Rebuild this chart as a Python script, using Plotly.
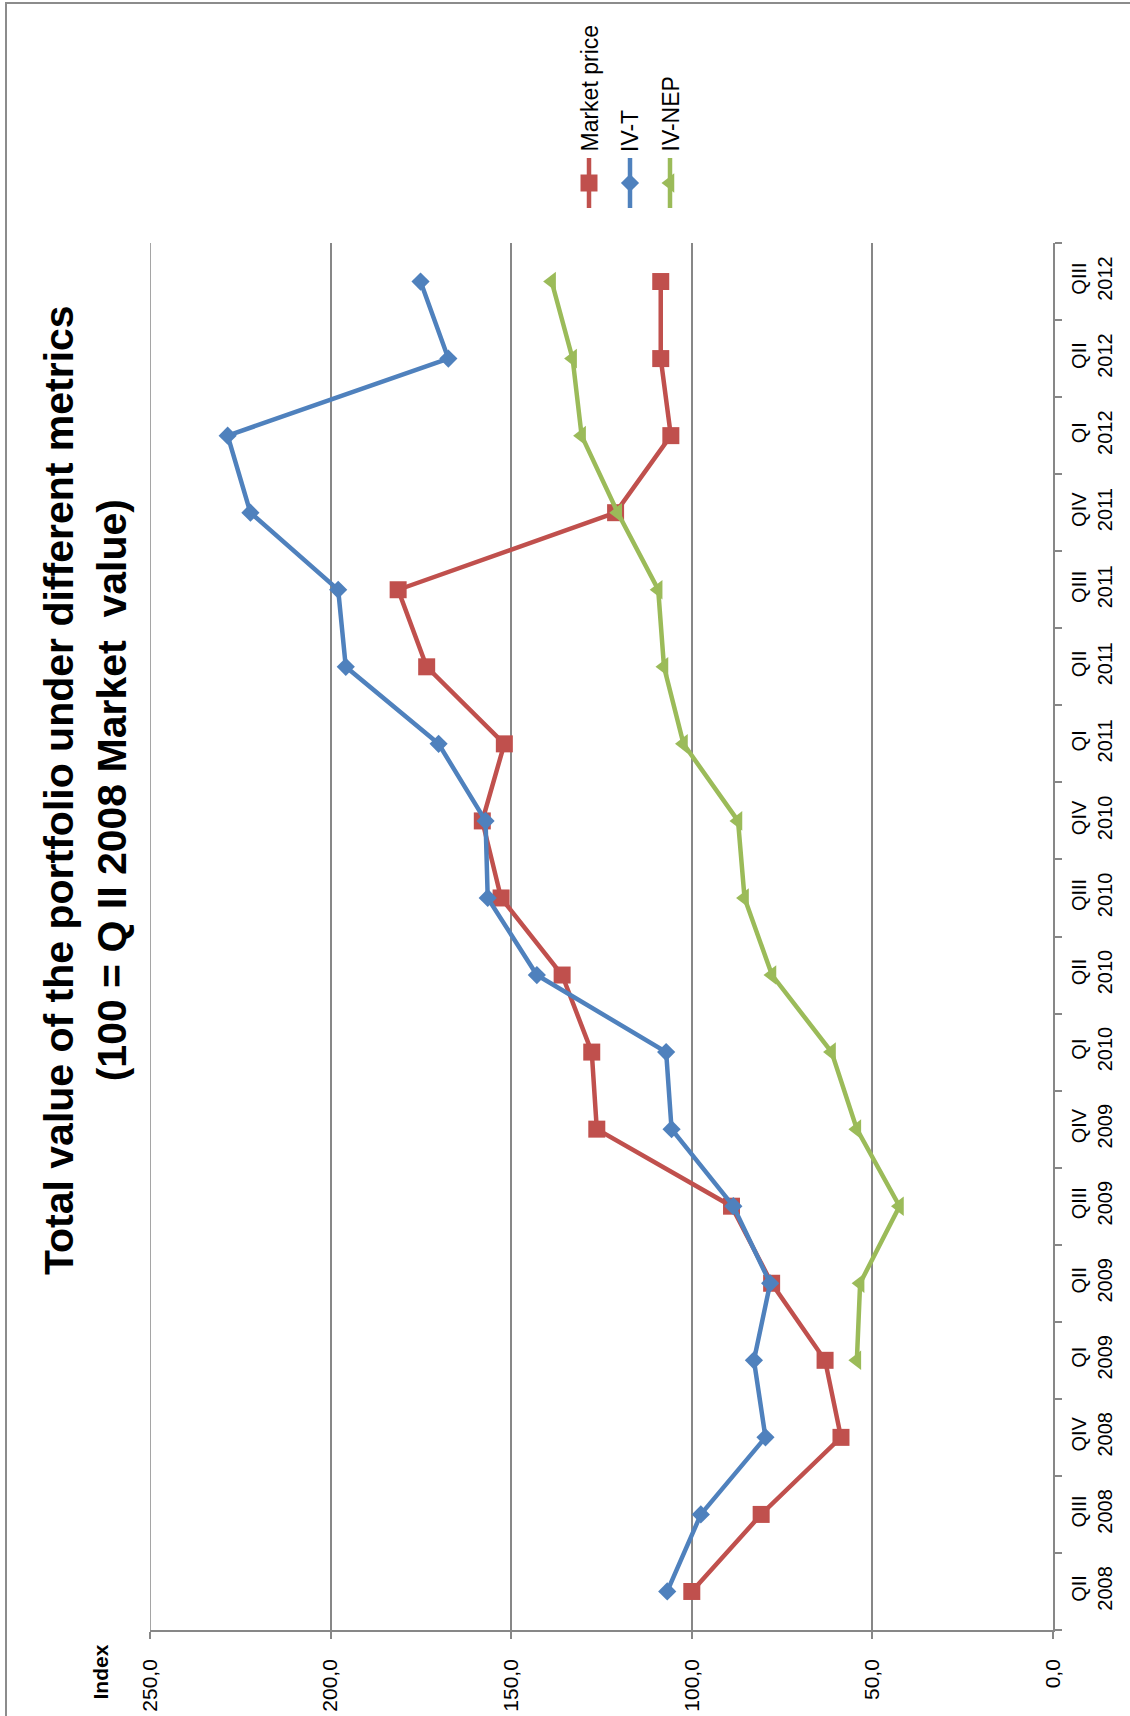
import plotly.graph_objects as go

# Quarter labels (category axis) and index values per metric
quarters = [
    "QII<br>2008", "QIII<br>2008", "QIV<br>2008",
    "QI<br>2009", "QII<br>2009", "QIII<br>2009", "QIV<br>2009",
    "QI<br>2010", "QII<br>2010", "QIII<br>2010", "QIV<br>2010",
    "QI<br>2011", "QII<br>2011", "QIII<br>2011", "QIV<br>2011",
    "QI<br>2012", "QII<br>2012", "QIII<br>2012",
]
market_price = [100.0, 80.8, 58.7, 63.1, 77.9, 89.0, 126.3, 127.7, 135.9,
                152.8, 158.0, 151.9, 173.4, 181.3, 121.1, 105.8, 108.6, 108.6]
iv_t = [106.8, 97.5, 79.6, 82.8, 78.3, 88.5, 105.6, 107.1, 142.9,
        156.5, 157.1, 170.1, 195.8, 197.9, 222.2, 228.5, 167.4, 175.1]
iv_nep = [None, None, None, 54.3, 53.4, 42.5, 54.3, 61.3, 77.8,
          85.4, 87.2, 102.3, 107.7, 109.3, 120.5, 130.5, 133.0, 138.8]

value_ticks = [0, 50, 100, 150, 200, 250]
value_tick_text = ["0,0", "50,0", "100,0", "150,0", "200,0", "250,0"]

series = [
    ("Market price", market_price, "#C0504D", "square", 17),
    ("IV-T", iv_t, "#4F81BD", "diamond", 14),
    ("IV-NEP", iv_nep, "#9BBB59", "triangle-left", 17),
]

W, H = 1130, 1716
FONT = "Liberation Sans, Arial, sans-serif"
GRID = "#878787"

fig = go.Figure()

for name, vals, color, symbol, size in series:
    fig.add_trace(go.Scatter(
        x=vals, y=quarters, mode="lines+markers", name=name,
        line=dict(color=color, width=4.5),
        marker=dict(symbol=symbol, size=size, color=color),
        connectgaps=False, showlegend=False,
        xaxis="x", yaxis="y",
    ))

# Hand-built rotated legend on a pixel-space overlay axis
legend_x = [589, 630, 670]
for (name, vals, color, symbol, size), lx in zip(series, legend_x):
    fig.add_trace(go.Scatter(
        x=[lx, lx], y=[158, 208], mode="lines",
        line=dict(color=color, width=4.5),
        showlegend=False, hoverinfo="skip",
        xaxis="x2", yaxis="y2",
    ))
    fig.add_trace(go.Scatter(
        x=[lx], y=[183], mode="markers",
        marker=dict(symbol=symbol, size=size, color=color),
        showlegend=False, hoverinfo="skip",
        xaxis="x2", yaxis="y2",
    ))
    fig.add_annotation(
        x=lx, y=154, xref="x2", yref="y2", text=name, showarrow=False,
        textangle=-90, xanchor="center", yanchor="bottom",
        font=dict(family=FONT, size=23, color="black"),
    )

# Title and value-axis caption
fig.add_annotation(
    x=85, y=790, xref="x2", yref="y2",
    text="<b>Total value of the portfolio under different metrics<br>(100 = Q II 2008 Market  value)</b>",
    showarrow=False, textangle=-90, xanchor="center", yanchor="middle",
    font=dict(family=FONT, size=41, color="black"),
)
fig.add_annotation(
    x=100, y=1643, xref="x2", yref="y2", text="<b>Index</b>",
    showarrow=False, textangle=-90, xanchor="center", yanchor="top",
    font=dict(family=FONT, size=21, color="black"),
)

# Gridline at the far end of the value range
fig.add_shape(type="line", xref="x", yref="y domain", x0=250, x1=250, y0=0, y1=1,
              line=dict(color=GRID, width=1.5), layer="below")

# Outer chart border
fig.add_shape(type="rect", xref="x2", yref="y2", x0=6, y0=3, x1=1200, y1=1800,
              line=dict(color="#8C8C8C", width=2), fillcolor="rgba(0,0,0,0)",
              layer="below")

fig.update_layout(
    width=W, height=H,
    margin=dict(l=0, r=0, t=0, b=0),
    paper_bgcolor="white", plot_bgcolor="rgba(0,0,0,0)",
    template="none",
    font=dict(family=FONT, size=21, color="black"),
    xaxis=dict(
        domain=[150 / W, 1053 / W], range=[250, 0], anchor="y",
        tickvals=value_ticks, ticktext=value_tick_text, tickangle=-90,
        ticks="outside", ticklen=7, tickwidth=1.5, tickcolor=GRID,
        showline=True, linecolor=GRID, linewidth=1.5,
        showgrid=True, gridcolor=GRID, gridwidth=1.5, zeroline=False,
        tickfont=dict(family=FONT, size=21, color="black"),
        ticklabelstandoff=12,
        automargin=False, fixedrange=True,
    ),
    yaxis=dict(
        domain=[(H - 1630) / H, (H - 243) / H], anchor="x", side="right",
        type="category", categoryorder="array", categoryarray=quarters,
        range=[-0.5, len(quarters) - 0.5],
        tickangle=-90, ticks="outside", tickson="boundaries", ticklen=7,
        tickwidth=1.5, tickcolor=GRID,
        showline=True, linecolor=GRID, linewidth=1.5,
        showgrid=False, zeroline=False,
        tickfont=dict(family=FONT, size=20, color="black"),
        ticklabelstandoff=7,
        automargin=False, fixedrange=True,
    ),
    xaxis2=dict(domain=[0, 1], range=[0, W], anchor="y2", visible=False,
                fixedrange=True),
    yaxis2=dict(domain=[0, 1], range=[H, 0], anchor="x2", visible=False,
                fixedrange=True),
)

fig.write_html("out.html")
